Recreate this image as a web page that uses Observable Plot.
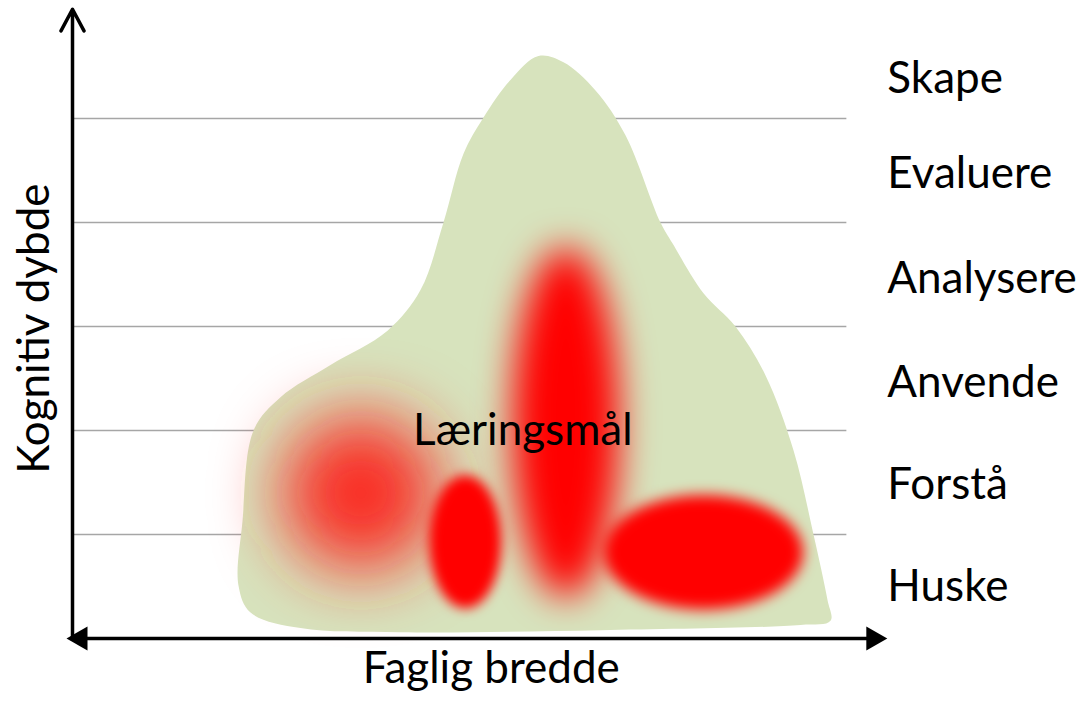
<!DOCTYPE html>
<html>
<head>
<meta charset="utf-8">
<script src="https://cdn.jsdelivr.net/npm/d3@7"></script>
<script src="https://cdn.jsdelivr.net/npm/@observablehq/plot@0.6"></script>
<style>
  html, body { margin: 0; padding: 0; background: #ffffff; }
  #chart svg { display: block; overflow: visible; }
</style>
</head>
<body>
<div id="chart"></div>
<script>
// ---- Data ----
// Bloom levels (y bands, bottom to top) and their label positions
const levels = ["Huske", "Forstå", "Anvende", "Analysere", "Evaluere", "Skape"];
const levelLabelY = [0.50, 1.48, 2.46, 3.46, 4.47, 5.38];
const gridLevels = [1, 2, 3, 4, 5];

// Outline of the green "landscape" (x: faglig bredde 0-100, y: kognitiv dybde 0-6)
const blobX = [20.49, 20.99, 22.35, 25.68, 31.85, 38.89, 42.96, 45.80, 48.27, 50.74, 54.07, 57.53, 60.62, 64.57, 68.27, 72.59, 74.07, 77.90, 81.85, 85.56, 89.01, 91.48, 93.21, 93.58, 89.88, 65.19, 40.49, 28.15, 21.98];
const blobY = [0.51, 1.13, 2.00, 2.32, 2.63, 2.96, 3.35, 4.00, 4.66, 5.01, 5.37, 5.60, 5.54, 5.27, 4.84, 4.00, 3.80, 3.32, 3.00, 2.53, 1.81, 1.00, 0.37, 0.17, 0.13, 0.08, 0.06, 0.10, 0.25];

// Red learning-goal spots (centre and radii in data units)
const spotCx = [35.6, 48.5, 60.9, 77.9];
const spotCy = [1.40, 0.93, 2.08, 0.83];
const spotRx = [9.6, 4.44, 6.6, 12.3];
const spotRy = [0.74, 0.64, 1.68, 0.55];

const centerLabel = "Læringsmål";
const xTitle = "Faglig bredde";
const yTitle = "Kognitiv dybde";

// ---- Styles ----
const spotFill = ["#fa2a22", "#ff0000", "#ff0000", "#ff0000"];
const spotBlur = [34, 6, 18, 7];
const FONT = "Lato, 'Open Sans', sans-serif";

// ---- Build tables ----
const blob = blobX.map((x, i) => ({x, y: blobY[i]}));
function ellipse(i, n = 72) {
  const pts = [];
  for (let k = 0; k < n; k++) {
    const t = (k / n) * 2 * Math.PI;
    pts.push({x: spotCx[i] + spotRx[i] * Math.cos(t), y: spotCy[i] + spotRy[i] * Math.sin(t)});
  }
  return pts;
}
const labels = levels.map((name, i) => ({name, y: levelLabelY[i]}));

const spotMarks = spotCx.map((_, i) =>
  Plot.line(ellipse(i), {x: "x", y: "y", fill: spotFill[i], stroke: "none", curve: "linear-closed", ariaDescription: "spot-" + i})
);

const chart = Plot.plot({
  width: 1082,
  height: 702,
  margin: 0,
  x: {domain: [0, 100], range: [72, 882], axis: null},
  y: {domain: [0, 6], range: [638, 14], axis: null},
  style: {background: "#ffffff", fontFamily: FONT, overflow: "visible"},
  marks: [
    Plot.ruleY(gridLevels, {x1: 0, x2: 95.6, stroke: "#a6a6a6", strokeWidth: 1.5}),
    Plot.line(blob, {x: "x", y: "y", fill: "#d7e3bd", stroke: "none", curve: "catmull-rom-closed"}),
    ...spotMarks,
    Plot.text([centerLabel], {x: 55.6, y: 2.0, text: d => d, fontSize: 44, fill: "#000", textAnchor: "middle"}),
    Plot.text(labels, {x: 100.6, y: "y", text: "name", fontSize: 44, fill: "#000", textAnchor: "start"}),
    Plot.text([xTitle], {x: 51.7, y: -0.29, text: d => d, fontSize: 44, fill: "#000", textAnchor: "middle"}),
    Plot.text([yTitle], {x: -4.6, y: 2.98, text: d => d, fontSize: 44, fill: "#000", textAnchor: "middle", rotate: -90}),
    // axes
    Plot.ruleY([0], {x1: -0.2, x2: 100.0, stroke: "#000", strokeWidth: 3.5}),
    Plot.arrow([0], {x1: 0, y1: 0, x2: 0, y2: 6.05, stroke: "#000", strokeWidth: 3.5, headLength: 10.5, headAngle: 56}),
    Plot.dot([0], {x: -0.25, y: 0, symbol: "triangle", rotate: -90, r: 9, fill: "#000", stroke: "none", dx: 10}),
    Plot.dot([0], {x: 100.1, y: 0, symbol: "triangle", rotate: 90, r: 9, fill: "#000", stroke: "none", dx: -10})
  ]
});

// Soft-focus filters for the red spots
const svg = d3.select(chart);
const defs = svg.insert("defs", ":first-child");
spotBlur.forEach((s, i) => {
  defs.append("filter")
    .attr("id", "blur-" + i)
    .attr("filterUnits", "userSpaceOnUse")
    .attr("x", -200).attr("y", -200).attr("width", 1500).attr("height", 1100)
    .append("feGaussianBlur").attr("stdDeviation", s);
  svg.selectAll(`g[aria-description="spot-${i}"]`).attr("filter", `url(#blur-${i})`);
});

document.getElementById("chart").appendChild(chart);
</script>
</body>
</html>
